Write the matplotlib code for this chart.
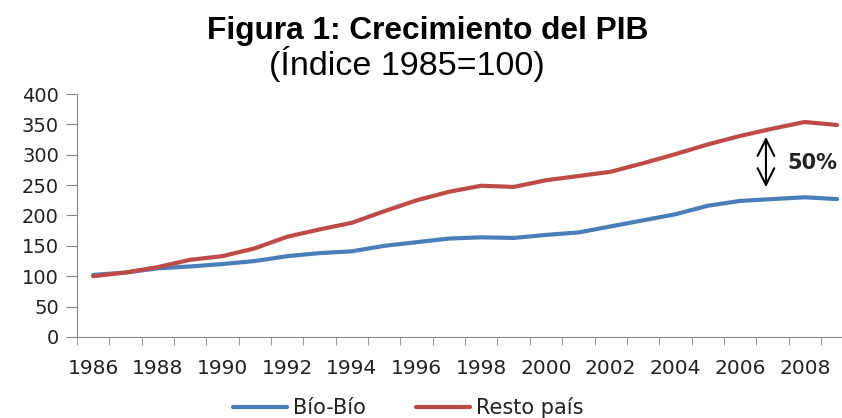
import matplotlib.pyplot as plt

# years on the category axis
years = list(range(1986, 2010))

# GDP index (1985 = 100)
bio_bio = [102, 106, 113, 116, 120, 125, 133, 138, 141, 150, 156, 162,
           164, 163, 168, 172, 182, 192, 202, 216, 224, 227, 230, 227]
resto_pais = [100, 106, 115, 127, 133, 146, 165, 177, 188, 207, 225, 239,
              249, 247, 258, 265, 272, 286, 301, 317, 331, 343, 354, 349]

labels = [str(y) if (y - 1986) % 2 == 0 else '' for y in years]
x = list(range(len(years)))

fig = plt.figure(figsize=(8.42, 4.18), dpi=100)
ax = fig.add_axes([0.0914, 0.194, 0.922, 0.581])

ax.plot(x, bio_bio, color='#4A7EBB', lw=3, label='Bío-Bío',
        solid_capstyle='round', solid_joinstyle='round')
ax.plot(x, resto_pais, color='#BE4B48', lw=3, label='Resto país',
        solid_capstyle='round', solid_joinstyle='round')

ax.set_xlim(-0.5, len(years) - 0.5)
ax.set_ylim(0, 400)
ax.set_yticks(range(0, 401, 50))

# labels on every other year, tick marks on category boundaries
ax.set_xticks(x[::2])
ax.set_xticklabels(labels[::2])
ax.set_xticks([i - 0.5 for i in range(len(years) + 1)], minor=True)
ax.tick_params(axis='x', which='major', length=0, pad=16, labelsize=14.5,
               labelcolor='#222222')
ax.tick_params(axis='x', which='minor', length=6, color='#888888', direction='out')
ax.tick_params(axis='y', length=8, color='#888888', labelsize=14,
               labelcolor='#222222', pad=5)

for s in ['top', 'right']:
    ax.spines[s].set_visible(False)
for s in ['left', 'bottom']:
    ax.spines[s].set_color('#888888')

# gap annotation
ax.annotate('', xy=(20.8, 242), xytext=(20.8, 334),
            arrowprops=dict(arrowstyle='<->', color='black', lw=1.5,
                            mutation_scale=30))
ax.text(21.45, 287, '50%', fontsize=15, fontweight='bold', va='center',
        ha='left', color='#222222')

fig.text(0.508, 0.926, 'Figura 1: Crecimiento del PIB', ha='center', va='center',
         fontsize=22.8, fontweight='bold', family='Liberation Sans')
fig.text(0.483, 0.846, '(Índice 1985=100)', ha='center', va='center',
         fontsize=24.5, family='Liberation Sans')

fig.legend(loc='center', bbox_to_anchor=(0.485, 0.025), ncol=2, frameon=False,
           fontsize=15, handlelength=2.6, columnspacing=2.4, handletextpad=0.3,
           labelcolor='#222222')

fig.savefig('out.png', dpi=100)
